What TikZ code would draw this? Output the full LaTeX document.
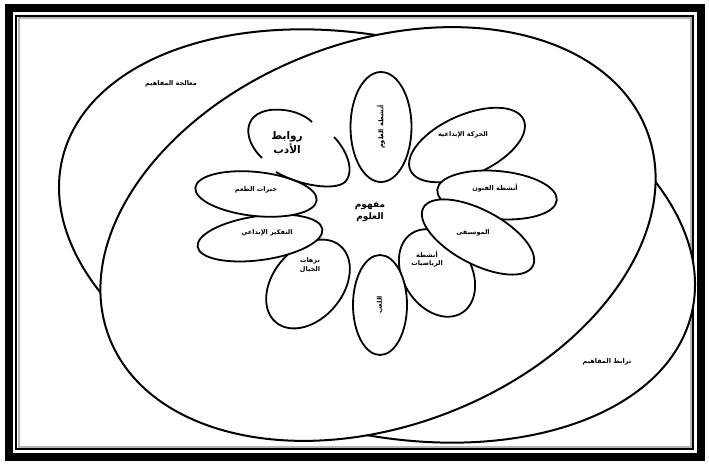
\documentclass[tikz,border=0pt]{standalone}
\usepackage{fontspec}
\usetikzlibrary{shapes.geometric}
\newfontfamily\arabicfont[Script=Arabic]{DejaVu Sans}
\TeXXeTstate=1
\newcommand{\artxt}[1]{{\arabicfont\beginR #1\endR}}
\definecolor{shadegray}{HTML}{B5B5B5}

\begin{document}
\begin{tikzpicture}[
    x=1pt, y=-1pt,
    ring/.style={draw, ellipse, line width=2pt, fill=white, inner sep=0pt},
    petal/.style={draw, ellipse, line width=1.8pt, fill=white, inner sep=0pt, font=\fontsize{6.5}{8}\selectfont\bfseries},
    lbl/.style={font=\fontsize{6.5}{8.5}\selectfont\bfseries, align=center, inner sep=0pt},
    hub/.style={font=\fontsize{9}{11.5}\selectfont\bfseries, align=center, inner sep=0pt},
]
\useasboundingbox (0,0) rectangle (709,465);
\draw[line width=8pt] (8.5,8.5) rectangle (700.5,456.5);
\draw[line width=1.6pt] (16,16) rectangle (693,449);
\draw[shadegray, line width=2pt] (18.5,18.5) rectangle (690.5,446.5);

\node[ring, minimum width=648pt, minimum height=394pt, rotate=-14] (processing) at (377,236) {};
\node[ring, minimum width=576pt, minimum height=384pt, rotate=21] (linking) at (378,234) {};

\node[petal, minimum width=110pt, minimum height=61pt, rotate=90] (science) at (381,127) {\artxt{أنشطة العلوم}};
\node[petal, minimum width=124pt, minimum height=60pt, rotate=24] (movement) at (467,145) {};
\node[petal, minimum width=120pt, minimum height=48pt, rotate=-5] (arts) at (497,195) {};
\node[petal, minimum width=94pt, minimum height=68pt, rotate=-58] (maths) at (437,273) {};
\node[petal, minimum width=124pt, minimum height=54pt, rotate=-28] (music) at (478,237) {};
\node[petal, minimum width=100pt, minimum height=54pt, rotate=90] (play) at (380,305) {\artxt{اللعب}};
\node[petal, minimum width=100pt, minimum height=70pt, rotate=50] (trips) at (308,284) {};
\node[petal, minimum width=126pt, minimum height=44pt, rotate=8] (thinking) at (260,238) {};
\node[petal, minimum width=122pt, minimum height=44pt, rotate=-6] (taste) at (256,194) {};

\draw[line width=1.8pt] (262,158) .. controls (243,140) and (242,114) .. (270,110) .. controls (290,108) and (305,115) .. (312,122);
\draw[line width=1.8pt] (334,137) .. controls (345,148) and (356,170) .. (345,182) .. controls (335,191) and (300,186) .. (276,172);

\node[lbl] (movementtxt) at (463,135) {\artxt{الحركة الإبداعية}};
\node[lbl] (artstxt) at (495,188) {\artxt{أنشطة الفنون}};
\node[lbl] (musictxt) at (473,233) {\artxt{الموسيقى}};
\node[lbl] (mathstxt) at (427,259) {\artxt{أنشطة}\\\artxt{الرياضيات}};
\node[lbl] (tripstxt) at (310,265) {\artxt{نزهات}\\\artxt{الخيال}};
\node[lbl] (thinkingtxt) at (267,233) {\artxt{التفكير الإبداعي}};
\node[lbl] (tastetxt) at (256,190) {\artxt{خبرات الطعم}};
\node[font=\fontsize{10.5}{14}\selectfont\bfseries, align=center, inner sep=0pt] (literature) at (287,143) {\artxt{روابط}\\\artxt{الأدب}};
\node[hub] (concept) at (370,212) {\artxt{مفهوم}\\\artxt{العلوم}};
\node[lbl] (processingtxt) at (171,84) {\artxt{معالجة المفاهيم}};
\node[lbl] (linkingtxt) at (607,362) {\artxt{ترابط المفاهيم}};
\end{tikzpicture}
\end{document}
